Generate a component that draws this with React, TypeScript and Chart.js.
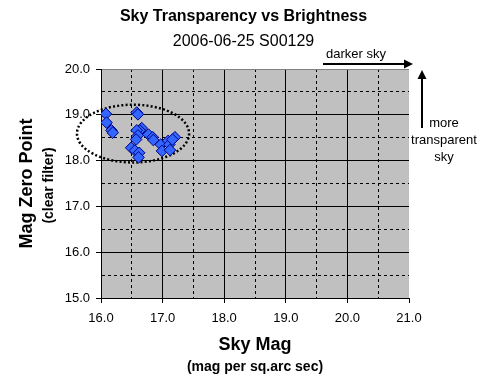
import { useEffect, useRef } from "react";
import { Chart, registerables } from "chart.js";

Chart.register(...registerables);

// ---- data ----
const skyMag = [16.08, 16.09, 16.17, 16.19, 16.58, 16.6, 16.66, 16.63, 16.58, 16.6, 16.57, 16.77, 16.84, 16.85, 16.49, 16.55, 16.62, 16.61, 16.97, 16.99, 17.09, 17.11, 17.12, 17.2, 17.16];
const zeroPoint = [19.02, 18.83, 18.66, 18.61, 19.05, 19.01, 18.71, 18.66, 18.66, 18.55, 18.46, 18.57, 18.51, 18.45, 18.28, 18.22, 18.17, 18.07, 18.35, 18.21, 18.43, 18.35, 18.23, 18.51, 18.46];
const xRange = [16, 21];
const yRange = [15, 20];
const tickStep = 0.5;
const ellipseCenter = [16.52, 18.59];
const ellipseRadius = [0.91, 0.63];

const titleText = "Sky Transparency vs Brightness";
const subtitleText = "2006-06-25 S00129";
const xTitle = ["Sky Mag", "(mag per sq.arc sec)"];
const yTitle = ["Mag Zero Point", "(clear filter)"];
const topNote = "darker sky";
const sideNote = ["more", "transparent", "sky"];

const FONT = "'Liberation Sans', Arial, sans-serif";

const isMajor = (v: number) => Math.abs(v - Math.round(v)) < 1e-6;

const decorPlugin = {
  id: "decor",
  beforeDraw(chart: any) {
    const { ctx, chartArea: a } = chart;
    ctx.save();
    ctx.fillStyle = "#ffffff";
    ctx.fillRect(0, 0, chart.width, chart.height);
    ctx.fillStyle = "#c0c0c0";
    ctx.fillRect(a.left, a.top, a.right - a.left, a.bottom - a.top);
    ctx.restore();
  },
  beforeDatasetsDraw(chart: any) {
    const { ctx, scales } = chart;
    const x = scales.x;
    const y = scales.y;
    const cx = x.getPixelForValue(ellipseCenter[0]);
    const cy = y.getPixelForValue(ellipseCenter[1]);
    const rx = x.getPixelForValue(ellipseCenter[0] + ellipseRadius[0]) - cx;
    const ry = cy - y.getPixelForValue(ellipseCenter[1] + ellipseRadius[1]);
    ctx.save();
    ctx.beginPath();
    ctx.ellipse(cx, cy, rx, ry, 0, 0, Math.PI * 2);
    ctx.setLineDash([2, 2.2]);
    ctx.lineWidth = 2.5;
    ctx.strokeStyle = "#000";
    ctx.stroke();
    ctx.restore();
  },
  afterDraw(chart: any) {
    const { ctx, chartArea: a } = chart;
    ctx.save();
    ctx.fillStyle = "#000";
    ctx.strokeStyle = "#000";
    ctx.textAlign = "center";
    ctx.textBaseline = "middle";
    // titles
    const cw = chart.width / 2;
    ctx.font = `bold 16px ${FONT}`;
    ctx.fillText(titleText, cw, 17);
    ctx.font = `16px ${FONT}`;
    ctx.fillText(subtitleText, cw, 42);
    // x axis title
    const xc = (a.left + a.right) / 2;
    ctx.font = `bold 18px ${FONT}`;
    ctx.fillText(xTitle[0], xc, a.bottom + 47);
    ctx.font = `bold 14px ${FONT}`;
    ctx.fillText(xTitle[1], xc, a.bottom + 69);
    // y axis title
    const yc = (a.top + a.bottom) / 2;
    ctx.save();
    ctx.translate(27, yc);
    ctx.rotate(-Math.PI / 2);
    ctx.font = `bold 18px ${FONT}`;
    ctx.fillText(yTitle[0], 0, 0);
    ctx.restore();
    ctx.save();
    ctx.translate(49, yc + 2);
    ctx.rotate(-Math.PI / 2);
    ctx.font = `bold 14px ${FONT}`;
    ctx.fillText(yTitle[1], 0, 0);
    ctx.restore();
    // horizontal arrow
    const ay = a.top - 5;
    const ax0 = a.right - 86;
    const ax1 = a.right + 4;
    ctx.lineWidth = 2;
    ctx.beginPath();
    ctx.moveTo(ax0, ay);
    ctx.lineTo(ax1 - 8, ay);
    ctx.stroke();
    ctx.beginPath();
    ctx.moveTo(ax1, ay);
    ctx.lineTo(ax1 - 9, ay - 4.5);
    ctx.lineTo(ax1 - 9, ay + 4.5);
    ctx.closePath();
    ctx.fill();
    ctx.font = `13px ${FONT}`;
    ctx.fillText(topNote, a.right - 53, a.top - 15);
    // vertical arrow
    const vx = a.right + 13;
    const vy0 = a.top + 59;
    const vy1 = a.top + 1;
    ctx.beginPath();
    ctx.moveTo(vx, vy0);
    ctx.lineTo(vx, vy1 + 8);
    ctx.stroke();
    ctx.beginPath();
    ctx.moveTo(vx, vy1);
    ctx.lineTo(vx - 4.5, vy1 + 9);
    ctx.lineTo(vx + 4.5, vy1 + 9);
    ctx.closePath();
    ctx.fill();
    sideNote.forEach((t, i) => {
      ctx.fillText(t, a.right + 35, a.top + 54 + i * 17);
    });
    ctx.restore();
  },
};

export default function App() {
  const ref = useRef<HTMLCanvasElement | null>(null);
  useEffect(() => {
    if (!ref.current) return;
    const chart = new Chart(ref.current, {
      type: "scatter",
      data: {
        datasets: [
          {
            data: skyMag.map((v, i) => ({ x: v, y: zeroPoint[i] })),
            pointStyle: "rectRot",
            pointRadius: 5.8,
            backgroundColor: "#3366ff",
            borderColor: "#000080",
            borderWidth: 1,
          },
        ],
      },
      options: {
        responsive: false,
        animation: false,
        devicePixelRatio: 1,
        layout: { padding: { left: 0, right: 78, top: 69, bottom: 0 } },
        plugins: {
          legend: { display: false },
          tooltip: { enabled: false },
          title: { display: false },
          subtitle: { display: false },
        },
        scales: {
          x: {
            type: "linear",
            min: xRange[0],
            max: xRange[1],
            afterFit: (s: any) => {
              s.height = 93;
            },
            ticks: {
              stepSize: tickStep,
              autoSkip: false,
              maxRotation: 0,
              padding: 8,
              color: "#000",
              font: { family: FONT, size: 13 },
              callback: (v: any) => (isMajor(Number(v)) ? Number(v).toFixed(1) : ""),
            },
            grid: {
              color: (c: any) => {
                const v = c.tick ? c.tick.value : 0;
                if (Math.abs(v - xRange[1]) < 1e-6) return "rgba(0,0,0,0)";
                return "#000";
              },
              lineWidth: 1,
              tickLength: 5,
              tickColor: (c: any) => (c.tick && isMajor(c.tick.value) ? "#000" : "rgba(0,0,0,0)"),
            },
            border: {
              display: true,
              color: "#000",
              width: 1,
              dash: (c: any) => (c.tick && !isMajor(c.tick.value) ? [3, 3] : []),
            },
          },
          y: {
            type: "linear",
            min: yRange[0],
            max: yRange[1],
            afterFit: (s: any) => {
              s.width = 101;
            },
            ticks: {
              stepSize: tickStep,
              autoSkip: false,
              padding: 6,
              color: "#000",
              font: { family: FONT, size: 13 },
              callback: (v: any) => (isMajor(Number(v)) ? Number(v).toFixed(1) : ""),
            },
            grid: {
              color: (c: any) => {
                const v = c.tick ? c.tick.value : 0;
                if (Math.abs(v - yRange[1]) < 1e-6) return "#808080";
                return "#000";
              },
              lineWidth: 1,
              tickLength: 5,
              tickColor: (c: any) => (c.tick && isMajor(c.tick.value) ? "#000" : "rgba(0,0,0,0)"),
            },
            border: {
              display: true,
              color: "#000",
              width: 1,
              dash: (c: any) => (c.tick && !isMajor(c.tick.value) ? [3, 3] : []),
            },
          },
        },
      },
      plugins: [decorPlugin],
    });
    return () => chart.destroy();
  }, []);
  return (
    <div style={{ position: "fixed", left: 0, top: 0, width: 487, height: 391, background: "#fff" }}>
      <canvas ref={ref} width={487} height={391} style={{ display: "block" }} />
    </div>
  );
}
